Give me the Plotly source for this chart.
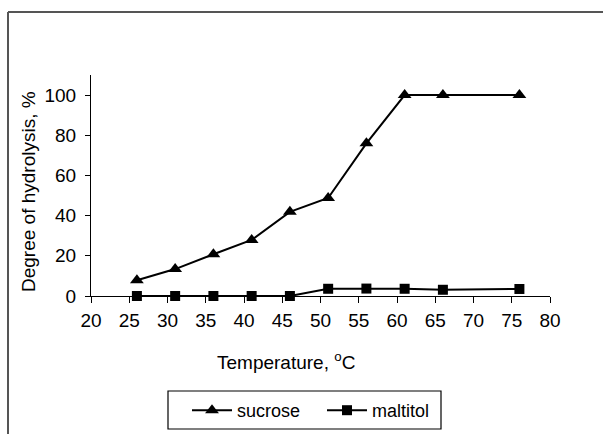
import plotly.graph_objects as go

# Hydrolysis degree vs. temperature
temperature = [26, 31, 36, 41, 46, 51, 56, 61, 66, 76]
sucrose = [7.8, 13.4, 20.8, 27.9, 41.9, 48.8, 76.0, 100, 100, 100]
maltitol = [0, 0, 0, 0, 0, 3.6, 3.7, 3.6, 3.1, 3.5]

x_ticks = [20, 25, 30, 35, 40, 45, 50, 55, 60, 65, 70, 75, 80]
y_ticks = [0, 20, 40, 60, 80, 100]

FONT = "Liberation Sans, Arial, sans-serif"
W, H = 603, 434
# plot area in pixels
L, R, T, B = 91, 550, 75, 296
PW, PH = R - L, B - T


def px(x):
    return (x - L) / PW


def py(y):
    return (B - y) / PH


fig = go.Figure()
fig.add_trace(go.Scatter(
    x=temperature, y=sucrose, name="sucrose", mode="lines+markers",
    line=dict(color="black", width=2),
    marker=dict(symbol="triangle-up", size=12, color="black"),
    cliponaxis=False,
))
fig.add_trace(go.Scatter(
    x=temperature, y=maltitol, name="maltitol", mode="lines+markers",
    line=dict(color="black", width=2),
    marker=dict(symbol="square", size=10, color="black"),
    cliponaxis=False,
))

axis_common = dict(
    showgrid=False, zeroline=False, showline=True, linecolor="black",
    linewidth=1, ticks="outside", tickcolor="black", tickwidth=1,
    tickfont=dict(family=FONT, size=19, color="black"),
)

fig.update_layout(
    width=W, height=H,
    margin=dict(l=L, r=W - R, t=T, b=H - B, autoexpand=False),
    paper_bgcolor="white", plot_bgcolor="white",
    font=dict(family=FONT, size=19, color="black"),
    xaxis=dict(range=[20, 80], tickvals=x_ticks, ticklen=6,
               ticklabelstandoff=1, **axis_common),
    yaxis=dict(range=[0, 110], tickvals=y_ticks, ticklen=5,
               ticklabelstandoff=5, **axis_common),
    showlegend=True,
    legend=dict(
        orientation="h", xref="container", yref="container",
        x=187 / W, y=(H - 410.5) / H, xanchor="left", yanchor="middle",
        borderwidth=0, bgcolor="rgba(0,0,0,0)",
        font=dict(family=FONT, size=18, color="black"),
        itemwidth=40, entrywidth=80,
    ),
    annotations=[
        dict(text="Temperature, <sup>o</sup>C", xref="paper", yref="paper",
             x=px(286), y=py(361), xanchor="center", yanchor="middle",
             showarrow=False, font=dict(family=FONT, size=19, color="black")),
        dict(text="Degree of hydrolysis, %", xref="paper", yref="paper",
             x=px(28), y=py(192), xanchor="center", yanchor="middle",
             textangle=-90, showarrow=False,
             font=dict(family=FONT, size=19, color="black")),
    ],
    shapes=[
        # outer frame: top and left edges
        dict(type="line", xref="paper", yref="paper",
             x0=px(8), x1=px(603), y0=py(12), y1=py(12),
             line=dict(color="#555555", width=2)),
        dict(type="line", xref="paper", yref="paper",
             x0=px(8), x1=px(8), y0=py(12), y1=py(434),
             line=dict(color="#555555", width=2)),
        # legend box
        dict(type="rect", xref="paper", yref="paper",
             x0=px(168), x1=px(441), y0=py(391), y1=py(429),
             line=dict(color="black", width=1.2), fillcolor="rgba(0,0,0,0)"),
    ],
)

fig.write_html("out.html")
